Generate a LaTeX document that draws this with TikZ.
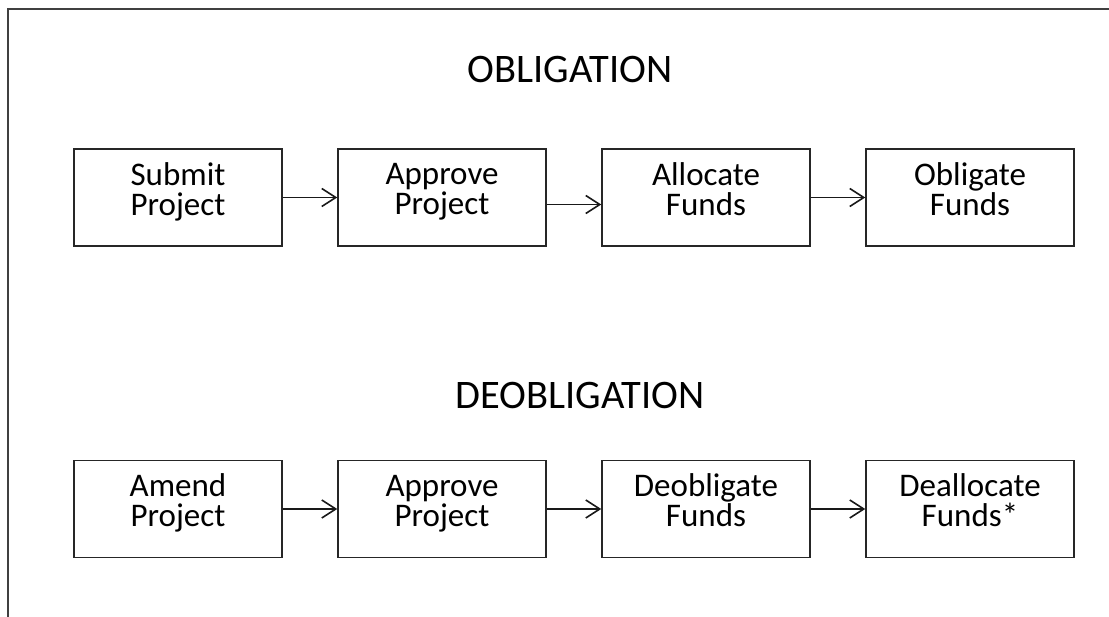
\documentclass[tikz,border=0pt]{standalone}
\usepackage{fontspec}
\setmainfont{Carlito}
\usetikzlibrary{arrows.meta}
\newcommand{\twoline}[2]{\rule{0pt}{21pt}#1\\#2\rule[-17pt]{0pt}{17pt}}
\begin{document}
\begin{tikzpicture}[x=1pt,y=-1pt,
  stepbox/.style={draw=black!85,line width=1.5pt,minimum width=208pt,minimum height=97pt,inner sep=0pt,align=center,font=\fontsize{33}{30}\selectfont},
  title/.style={font=\fontsize{40.5}{40}\selectfont,inner sep=0pt},
  conn/.style={draw=black!90,line width=1.5pt,-{Straight Barb[length=14pt,width=18pt,line width=1.6pt]}},
  frame/.style={draw=black!75,line width=2pt}]
\useasboundingbox (0,0) rectangle (1109,617);
\coordinate (fa) at (8,617);
\coordinate (fb) at (8,9);
\coordinate (fc) at (1109,9);
\draw[frame] (fa) -- (fb) -- (fc);
\node[title] (t1) at (570,70) {OBLIGATION};
\node[title] (t2) at (580,395) {DEOBLIGATION};
\node[stepbox] (a1) at (178,197.5) {\twoline{Submit}{Project}};
\node[stepbox] (a2) at (442,197.5) {\twoline{Approve}{Project}};
\node[stepbox] (a3) at (706,197.5) {\twoline{Allocate}{Funds}};
\node[stepbox] (a4) at (970,197.5) {\twoline{Obligate}{Funds}};
\node[stepbox] (b1) at (178,509) {\twoline{Amend}{Project}};
\node[stepbox] (b2) at (442,509) {\twoline{Approve}{Project}};
\node[stepbox] (b3) at (706,509) {\twoline{Deobligate}{Funds}};
\node[stepbox] (b4) at (970,509) {\twoline{Deallocate}{Funds*}};
\draw[conn] (a1.east) -- (a2.west);
\draw[conn] ([yshift=-7pt]a2.east) -- ([yshift=-7pt]a3.west);
\draw[conn] (a3.east) -- (a4.west);
\draw[conn] (b1.east) -- (b2.west);
\draw[conn] (b2.east) -- (b3.west);
\draw[conn] (b3.east) -- (b4.west);
\end{tikzpicture}
\end{document}
